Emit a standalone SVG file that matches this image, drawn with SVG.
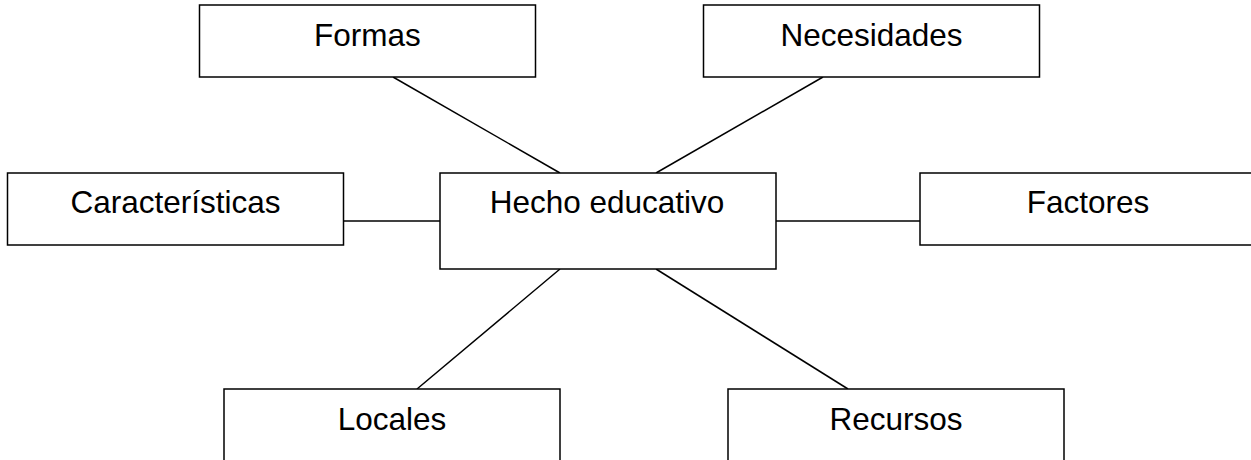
<svg xmlns="http://www.w3.org/2000/svg" width="1251" height="460" viewBox="0 0 1251 460">
<style>
.box{fill:#fff;stroke:#000;stroke-width:1.5}
.lbl{font-family:"Liberation Sans",Arial,sans-serif;font-size:31.5px;fill:#000;text-anchor:middle}
.con line{stroke:#000;stroke-width:1.5}
</style>
<rect width="1251" height="460" fill="#fff"/>
<g id="connectors" class="con">
<line x1="393" y1="77" x2="560" y2="173"/>
<line x1="823" y1="77" x2="656" y2="173"/>
<line x1="344" y1="221" x2="440" y2="221"/>
<line x1="776" y1="221" x2="920" y2="221"/>
<line x1="560" y1="269" x2="417" y2="389"/>
<line x1="656" y1="269" x2="848" y2="389"/>
</g>
<g id="formas"><rect class="box" x="199.5" y="5" width="336" height="72"/><text class="lbl" x="367.5" y="46">Formas</text></g>
<g id="necesidades"><rect class="box" x="703.5" y="5" width="336" height="72"/><text class="lbl" x="871.5" y="46">Necesidades</text></g>
<g id="caracteristicas"><rect class="box" x="7.5" y="173" width="336" height="72"/><text class="lbl" x="175.5" y="213">Características</text></g>
<g id="hecho"><rect class="box" x="440" y="173" width="336" height="96"/><text class="lbl" x="607" y="213">Hecho educativo</text></g>
<g id="factores"><rect class="box" x="920" y="173" width="336" height="72"/><text class="lbl" x="1088" y="213">Factores</text></g>
<g id="locales"><rect class="box" x="224" y="389" width="336" height="96"/><text class="lbl" x="392" y="430">Locales</text></g>
<g id="recursos"><rect class="box" x="728" y="389" width="336" height="96"/><text class="lbl" x="896" y="430">Recursos</text></g>
</svg>
